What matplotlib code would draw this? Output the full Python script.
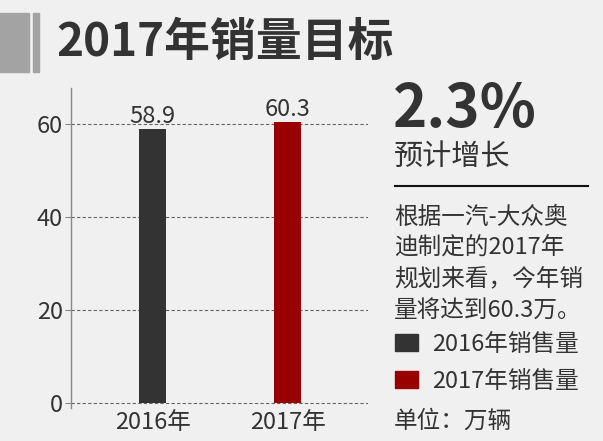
import matplotlib
matplotlib.use("Agg")
import matplotlib.pyplot as plt
from matplotlib.patches import Rectangle

plt.rcParams['font.family'] = ['Noto Sans CJK SC', 'DejaVu Sans']

years = ['2016年', '2017年']
sales = [58.9, 60.3]
bar_colors = ['#333333', '#990000']
legend_labels = ['2016年销售量', '2017年销售量']
yticks = [0, 20, 40, 60]

title = '2017年销量目标'
growth = '2.3%'
growth_label = '预计增长'
note_lines = ['根据一汽-大众奥', '迪制定的2017年', '规划来看，今年销', '量将达到60.3万。']
unit = '单位：万辆'

bg = '#f0f0f0'
txt = '#333333'

fig = plt.figure(figsize=(6.03, 4.41), dpi=100, facecolor=bg)

# grey header blocks
fig.patches.append(Rectangle((0, 1 - 72 / 441), 29 / 603, 59 / 441,
                             transform=fig.transFigure, color='#a3a3a3'))
fig.patches.append(Rectangle((33 / 603, 1 - 72 / 441), 6 / 603, 59 / 441,
                             transform=fig.transFigure, color='#a3a3a3'))
fig.text(56 / 603, 1 - 43 / 441, title, fontsize=33, fontweight='bold',
         color=txt, va='center', ha='left')

ax = fig.add_axes([71 / 603, 33 / 441, 297 / 603, 320 / 441])
ax.set_facecolor(bg)
x = list(range(len(years)))
bars = ax.bar(x, sales, width=0.2, color=bar_colors, zorder=3)
for xi, v in zip(x, sales):
    ax.text(xi, v + 0.3, f'{v}', ha='center', va='bottom', fontsize=17, color=txt)

ax.set_xlim(-0.605, 1.595)
ax.set_ylim(-1.1, 67.7)
ax.set_yticks(yticks)
ax.set_xticks(x)
ax.set_xticklabels(years)
ax.tick_params(axis='y', length=4, color='#888888', labelsize=17, labelcolor=txt, pad=2)
ax.tick_params(axis='x', length=0, labelsize=17, labelcolor=txt, pad=2)
ax.yaxis.grid(True, linestyle=(0, (3, 2)), color='#666666', linewidth=0.8)
ax.set_axisbelow(True)
for s in ['top', 'right', 'bottom']:
    ax.spines[s].set_visible(False)
ax.spines['left'].set_color('#888888')
ax.spines['left'].set_linewidth(1)

# right panel
fig.text(393 / 603, 1 - 110 / 441, growth, fontsize=42, fontweight='bold',
         color=txt, va='center', ha='left')
fig.text(394 / 603, 1 - 157 / 441, growth_label, fontsize=21,
         color=txt, va='center', ha='left')
fig.add_artist(plt.Line2D([395 / 603, 588 / 603], [1 - 186 / 441, 1 - 186 / 441],
                          transform=fig.transFigure, color='#111111', linewidth=1.5))
for i, line in enumerate(note_lines):
    fig.text(394 / 603, 1 - (217 + i * 31) / 441, line, fontsize=17,
             color=txt, va='center', ha='left')

handles = [Rectangle((0, 0), 1, 1, color=c) for c in bar_colors]
fig.legend(handles, legend_labels, loc='upper left',
           bbox_to_anchor=(388 / 603, 1 - 326 / 441), frameon=False,
           fontsize=17, handlelength=0.95, handleheight=0.75,
           handletextpad=0.6, labelspacing=0.58, labelcolor=txt,
           borderpad=0.3, borderaxespad=0)
fig.text(394 / 603, 1 - 421 / 441, unit, fontsize=17,
         color=txt, va='center', ha='left')

fig.savefig('out.png', dpi=100, facecolor=bg)
